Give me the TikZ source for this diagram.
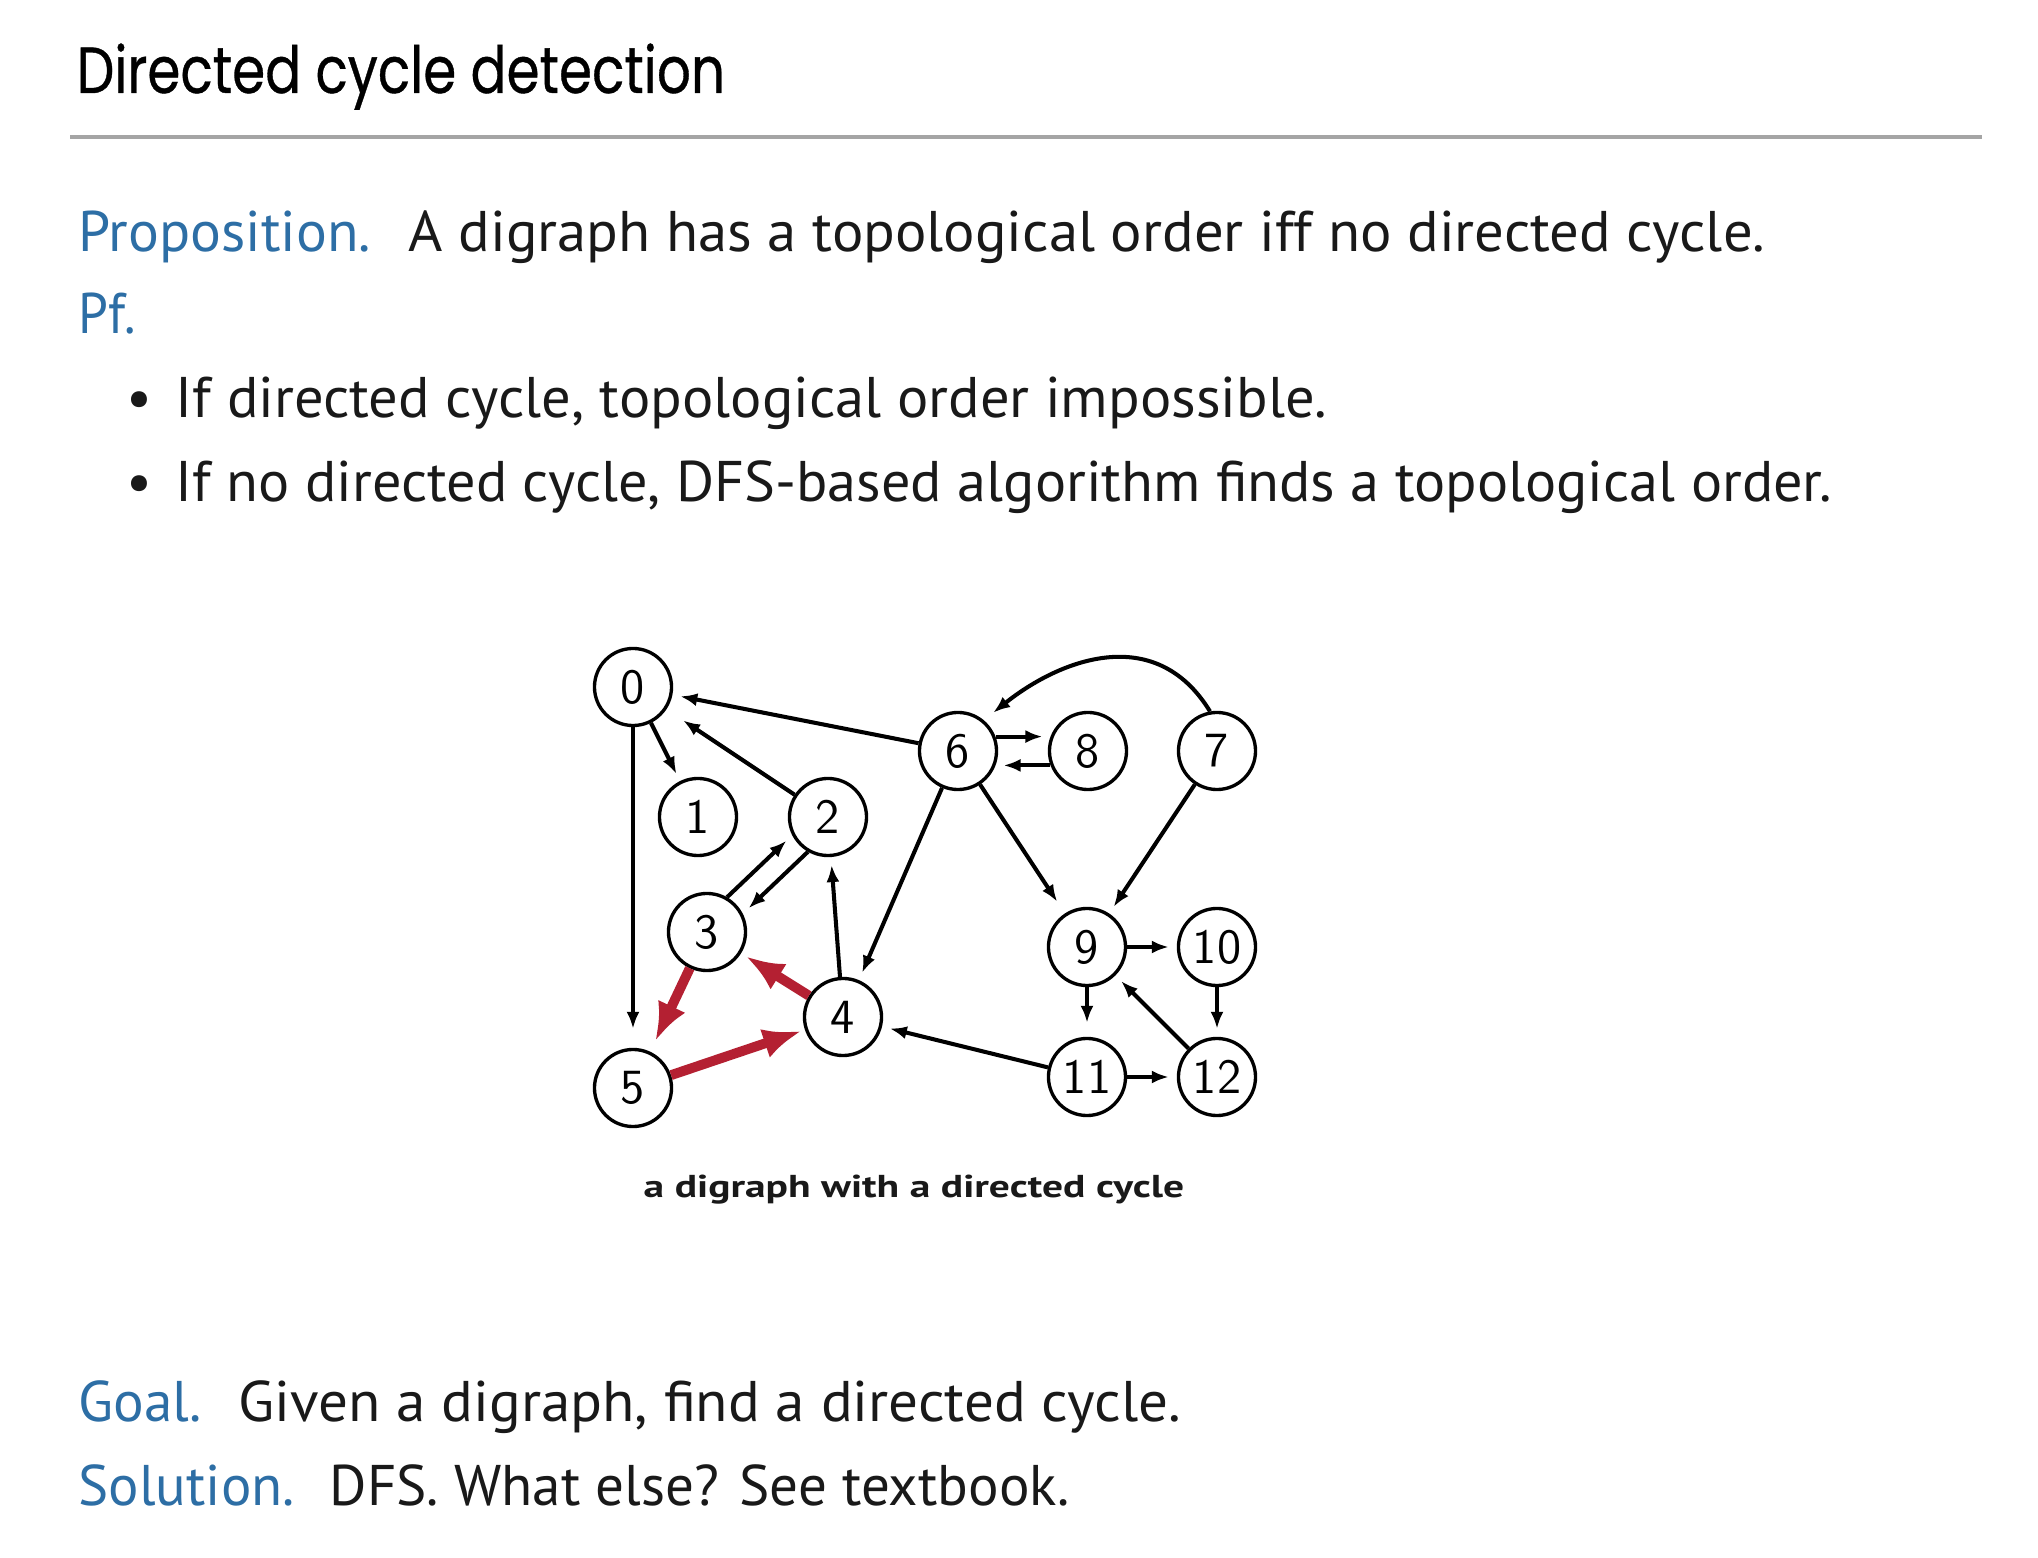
\documentclass[tikz,border=0pt]{standalone}
\usepackage{fontspec}
\usepackage{graphicx}
\setmainfont{PT Sans}
\newfontfamily\titlefont[FakeBold=0.6]{Poppins}
\usetikzlibrary{arrows.meta}
\definecolor{propblue}{RGB}{45,110,165}
\definecolor{cyclered}{RGB}{180,32,50}
\definecolor{rulegray}{RGB}{165,165,165}
\definecolor{ink}{RGB}{25,25,25}
% set a line of text to a given width, keeping its height
\newcommand{\fitw}[2]{\resizebox{#1}{\height}{#2}}
\begin{document}
\begin{tikzpicture}[x=0.01cm,y=-0.01cm,
  txt/.style={anchor=base west, inner sep=0pt, font=\fontsize{16.3}{19}\selectfont, text=ink},
  lbl/.style={txt, text=propblue},
  vert/.style={circle, draw, line width=0.95pt, minimum size=0.77cm, inner sep=0pt,
    fill=white, font=\sffamily\fontsize{14}{14}\selectfont},
  edge/.style={line width=1.15pt, -{Latex[length=0.17cm,width=0.13cm]}, shorten >=0.08cm},
  redge/.style={line width=2.8pt, draw=cyclered, -{Latex[length=0.38cm,width=0.3cm]}, shorten >=0.06cm}]
\useasboundingbox[fill=white] (0,0) rectangle (2038,1558);

% heading and rule
\node[anchor=base west, inner sep=0pt, font=\titlefont\fontsize{18.5}{20}\selectfont] (title) at (76,93)
  {\fitw{6.48cm}{Directed cycle detection}};
\draw[rulegray, line width=0.9pt] (70,137) -- (1982,137);

% statement
\node[lbl] (propl) at (78,252) {\fitw{2.92cm}{Proposition.}};
\node[txt] (propt) at (408,252) {\fitw{13.56cm}{A digraph has a topological order iff no directed cycle.}};
\node[lbl] (pfl) at (78,334) {\fitw{0.57cm}{Pf.}};
\node[txt] (b1) at (126,418) {\textbullet};
\node[txt] (b1t) at (175,418) {\fitw{11.51cm}{If directed cycle, topological order impossible.}};
\node[txt] (b2) at (126,502) {\textbullet};
\node[txt] (b2t) at (175,502) {\fitw{16.55cm}{If no directed cycle, DFS-based algorithm finds a topological order.}};

% the digraph
\node[vert] (v0) at (633,687) {0};
\node[vert] (v1) at (698,817) {1};
\node[vert] (v2) at (828,817) {2};
\node[vert] (v3) at (707,932) {3};
\node[vert] (v4) at (843,1017) {4};
\node[vert] (v5) at (633,1088) {5};
\node[vert] (v6) at (958,751) {6};
\node[vert] (v8) at (1088,751) {8};
\node[vert] (v7) at (1217,751) {7};
\node[vert] (v9) at (1087,947) {9};
\node[vert] (v10) at (1217,947) {10};
\node[vert] (v11) at (1087,1077) {11};
\node[vert] (v12) at (1217,1077) {12};

\draw[edge] (v0) -- (v1);
\draw[edge, shorten >=0.2cm] (v2) -- (v0);
\draw[edge] (v6) -- (v0);
\draw[edge, shorten >=0.19cm] (v0) -- (v5);
\draw[edge] (v3.60) -- (v2.207);
\draw[edge] (v2.240) -- (v3.27);
\draw[edge] (v4) -- (v2);
\draw[edge] (v6) -- (v4);
\draw[edge] (v11) -- (v4);
\draw[edge] (v6.21) -- (v8.159);
\draw[edge] (v8.201) -- (v6.339);
\draw[edge, shorten >=0.12cm] (v7.100) .. controls +(-55,-90) and +(75,-60) .. (v6.50);
\draw[edge, shorten >=0.14cm] (v6) -- (v9);
\draw[edge] (v7) -- (v9);
\draw[edge] (v9) -- (v10);
\draw[edge, shorten >=0.14cm] (v9) -- (v11);
\draw[edge] (v10) -- (v12);
\draw[edge] (v12) -- (v9);
\draw[edge] (v11) -- (v12);

% the directed cycle 3 -> 5 -> 4 -> 3
\draw[redge, shorten >=0.12cm] (v3) -- (v5);
\draw[redge, shorten >=0.04cm] (v5) -- (v4);
\draw[redge] (v4) -- (v3);

\node[anchor=base west, inner sep=0pt, font=\bfseries\fontsize{9}{10}\selectfont, text=ink] (cap) at (643,1198)
  {\fitw{5.40cm}{a digraph with a directed cycle}};

% goal and solution
\node[lbl] (goall) at (78,1421) {\fitw{1.23cm}{Goal.}};
\node[txt] (goalt) at (238,1421) {\fitw{9.42cm}{Given a digraph, find a directed cycle.}};
\node[lbl] (soll) at (78,1505) {\fitw{2.16cm}{Solution.}};
\node[txt] (solt) at (329,1505) {\fitw{7.39cm}{DFS. What else? See textbook.}};
\end{tikzpicture}
\end{document}
